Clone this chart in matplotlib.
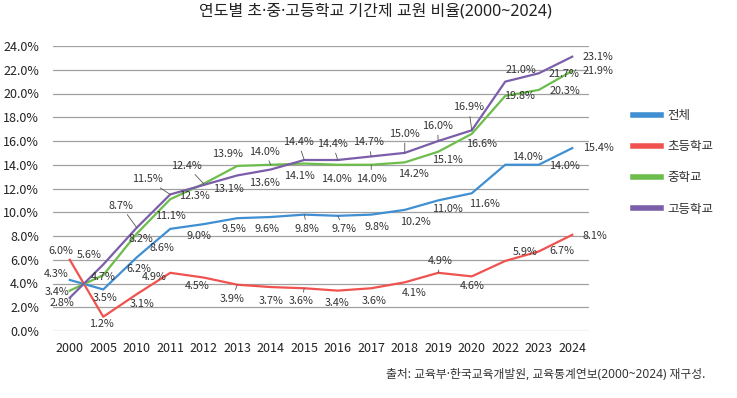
import matplotlib
matplotlib.use("Agg")
import matplotlib.pyplot as plt
import numpy as np

plt.rcParams['font.family'] = ['Noto Sans CJK KR', 'DejaVu Sans']

# data
years = ["2000", "2005", "2010", "2011", "2012", "2013", "2014", "2015",
         "2016", "2017", "2018", "2019", "2020", "2022", "2023", "2024"]
total = [4.3, 3.5, 6.2, 8.6, 9.0, 9.5, 9.6, 9.8, 9.7, 9.8, 10.2, 11.0, 11.6, 14.0, 14.0, 15.4]
elementary = [6.0, 1.2, 3.1, 4.9, 4.5, 3.9, 3.7, 3.6, 3.4, 3.6, 4.1, 4.9, 4.6, 5.9, 6.7, 8.1]
middle = [3.4, 4.7, 8.2, 11.1, 12.4, 13.9, 14.0, 14.1, 14.0, 14.0, 14.2, 15.1, 16.6, 19.8, 20.3, 21.9]
high = [2.8, 5.6, 8.7, 11.5, 12.3, 13.1, 13.6, 14.4, 14.4, 14.7, 15.0, 16.0, 16.9, 21.0, 21.7, 23.1]
series_names = ["전체", "초등학교", "중학교", "고등학교"]
yticks = [0, 2, 4, 6, 8, 10, 12, 14, 16, 18, 20, 22, 24]

colors = ["#3f8fd2", "#f0534f", "#6cbd4c", "#7b5ea9"]

# label offsets in pixels (dx, dy) and whether a leader line is drawn
offsets = {
    0: [(-14, 6), (2, -9), (2, -12), (-8, -19), (-5, -12), (-3, -11), (-4, -12), (3, -14),
        (6, -13), (6, -12), (11, -12), (9, -9), (13, -11), (22, 8), (26, -1), (26, 0)],
    1: [(-9, 9), (-2, -7), (5, -10), (-16, -4), (-7, -8), (-5, -14), (0, -14), (-3, -13),
        (-1, -12), (3, -13), (9, -11), (2, 12), (0, -10), (20, 9), (23, 0), (23, -1)],
    2: [(-13, -1), (0, -2), (4, -5), (0, -17), (-17, 18), (-10, 12), (-6, 13), (-5, -12),
        (-1, -14), (0, -14), (9, -12), (9, -8), (10, -10), (14, 0), (26, -1), (26, 0)],
    3: [(-8, -5), (-14, 10), (-16, 22), (-23, 15), (-9, -11), (-9, -14), (-6, -14), (-6, 18),
        (-5, 16), (-3, 14), (0, 19), (-1, 15), (-3, 23), (16, 12), (25, -1), (26, 0)],
}
leaders = {
    0: [7, 8],
    1: [5, 7, 11],
    2: [4, 6, 9],
    3: [2, 3, 7, 8, 9, 10, 11, 12],
}

fig = plt.figure(figsize=(7.37, 3.98), dpi=100)
ax = fig.add_axes([53 / 737, 1 - 331 / 398, 536 / 737, 285 / 398])

x = np.arange(len(years))
data = [total, elementary, middle, high]
for k, vals in enumerate(data):
    ax.plot(x, vals, color=colors[k], lw=1.6, label=series_names[k], zorder=3)
    for i, v in enumerate(vals):
        dx, dy = offsets[k][i]
        arrow = None
        if i in leaders[k]:
            arrow = dict(arrowstyle="-", color="#555555", lw=0.6, shrinkA=1, shrinkB=0)
        ax.annotate(f"{v:.1f}%", (x[i], v), xytext=(dx, dy), textcoords="offset pixels",
                    ha="center", va="center", fontsize=7.8, color="#333333",
                    arrowprops=arrow, zorder=4)

ax.set_xlim(-0.5, len(years) - 0.5)
ax.set_ylim(0, 24)
ax.set_yticks(yticks)
ax.set_yticklabels([f"{t:.1f}%" for t in yticks], fontsize=9, color="#222222")
ax.set_xticks(x)
ax.set_xticklabels(years, fontsize=9, color="#222222")
ax.tick_params(length=0, pad=8)
ax.tick_params(axis="y", pad=10)
ax.grid(axis="y", color="#a0a0a0", lw=0.9)
ax.set_axisbelow(True)
for s in ax.spines.values():
    s.set_visible(False)

handles = [plt.Line2D([], [], color=c, lw=4) for c in colors]
fig.legend(handles, series_names, loc="upper left", bbox_to_anchor=(622 / 737, 1 - 98 / 398),
           frameon=False, fontsize=9, handlelength=2.2, labelspacing=1.45, handletextpad=0.5,
           labelcolor="#333333")

# Noto Sans first so the middle dot stays narrow
fig.text(375 / 737, 1 - 12 / 398, "연도별 초·중·고등학교 기간제 교원 비율(2000~2024)",
         ha="center", va="center", fontsize=11.5, color="#222222",
         family=["Noto Sans", "Noto Sans CJK KR"])
fig.text(705 / 737, 1 - 375 / 398, "출처: 교육부·한국교육개발원, 교육통계연보(2000~2024) 재구성.",
         ha="right", va="center", fontsize=8.5, color="#333333",
         family=["Noto Sans", "Noto Sans CJK KR"])

fig.savefig("out.png", dpi=100)
